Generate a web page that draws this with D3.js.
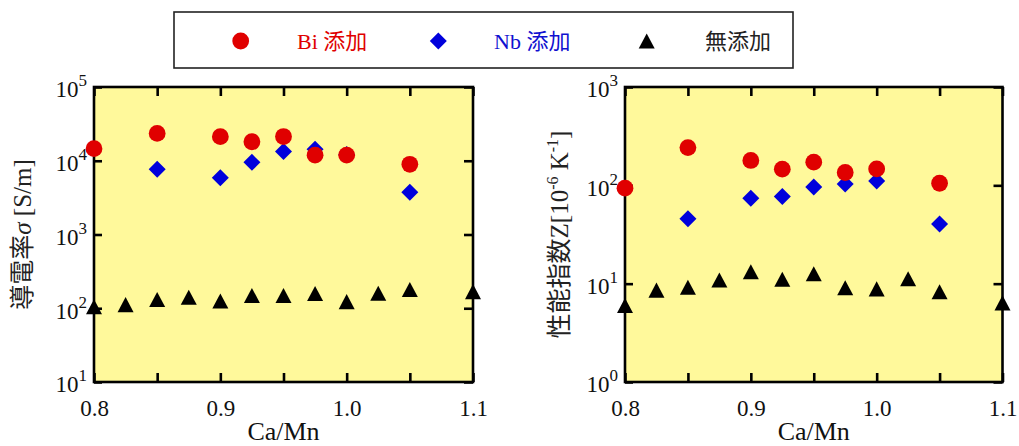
<!DOCTYPE html>
<html>
<head>
<meta charset="utf-8">
<script src="https://cdn.jsdelivr.net/npm/d3@7"></script>
<style>
  html, body { margin: 0; padding: 0; background: #ffffff; }
  svg { display: block; }
</style>
</head>
<body>
<div id="chart"></div>
<script>
// Ca/Mn ratios
const xBi = [0.8, 0.85, 0.9, 0.925, 0.95, 0.975, 1.0, 1.05];
const xNb = [0.85, 0.9, 0.925, 0.95, 0.975, 1.0, 1.05];
const xNone = [0.8, 0.825, 0.85, 0.875, 0.9, 0.925, 0.95, 0.975, 1.0, 1.025, 1.05, 1.1];

// conductivity sigma [S/m]
const sigmaBi = [14600, 23500, 21200, 18100, 21300, 11900, 11900, 8950];
const sigmaNb = [7650, 5900, 9530, 13300, 14300, 12200, 3730];
const sigmaNone = [105, 112, 131, 141, 125, 149, 149, 158, 123, 160, 179, 168];

// performance index Z [1e-6 /K]
const zBi = [93.6, 242, 179, 146, 172, 135, 147, 105];
const zNb = [45.7, 74, 77, 96, 103, 111, 40.4];
const zNone = [6.0, 8.6, 9.2, 10.9, 13.2, 11.1, 12.6, 9.1, 8.85, 11.2, 8.26, 6.38];

// ticks
const xTicks = [0.8, 0.85, 0.9, 0.95, 1.0, 1.05, 1.1];
const xTickLabels = [0.8, 0.9, 1.0, 1.1];
const sigmaTicks = [1e1, 1e2, 1e3, 1e4, 1e5];
const zTicks = [1e0, 1e1, 1e2, 1e3];

const legendLabels = ['Bi 添加', 'Nb 添加', '無添加'];

const width = 1019;
const height = 446;
const FONT = 'Liberation Serif, Noto Sans CJK JP, serif';
const RED = '#e00000';
const BLUE = '#0000dc';
const BG = '#fff99b';

// markers centred on their bounding box, like the original plot
const triangle = {
  draw(ctx, size) {
    const w = Math.sqrt(size);
    const h = w * 0.94;
    ctx.moveTo(0, -h / 2);
    ctx.lineTo(w / 2, h / 2);
    ctx.lineTo(-w / 2, h / 2);
    ctx.closePath();
  },
};
const diamond = {
  draw(ctx, size) {
    const r = Math.sqrt(size) / 2;
    ctx.moveTo(0, -r);
    ctx.lineTo(r, 0);
    ctx.lineTo(0, r);
    ctx.lineTo(-r, 0);
    ctx.closePath();
  },
};

const series = [
  { type: d3.symbolCircle, size: Math.PI * 8.4 * 8.4, color: RED },
  { type: diamond, size: 17 * 17, color: BLUE },
  { type: triangle, size: 16 * 16, color: '#000000' },
];

const svg = d3.select('#chart').append('svg')
  .attr('width', width)
  .attr('height', height)
  .style('font-family', FONT);

function drawPanel(opt) {
  const x = d3.scaleLinear().domain([0.8, 1.1]).range([opt.left, opt.right]);
  const y = d3.scaleLog().domain(opt.yDomain).range([opt.bottom, opt.top]);
  const g = svg.append('g');

  g.append('rect')
    .attr('x', opt.left)
    .attr('y', opt.top)
    .attr('width', opt.right - opt.left)
    .attr('height', opt.bottom - opt.top)
    .attr('fill', BG)
    .attr('stroke', '#000')
    .attr('stroke-width', 2.6);

  const fmtX = (d) => (xTickLabels.includes(d) ? d.toFixed(1) : '');

  const styleAxis = (sel) => {
    sel.attr('font-family', null).attr('font-size', null);
    sel.select('.domain').remove();
    sel.selectAll('.tick line').attr('stroke', '#000').attr('stroke-width', 2.6);
    sel.selectAll('.tick text')
      .attr('fill', '#111')
      .style('font-family', FONT)
      .style('font-size', '23px');
  };

  g.append('g')
    .attr('transform', `translate(0,${opt.bottom})`)
    .call(d3.axisBottom(x).tickValues(xTicks).tickSizeInner(-9).tickSizeOuter(0).tickPadding(18).tickFormat(fmtX))
    .call(styleAxis);

  g.append('g')
    .attr('transform', `translate(0,${opt.top})`)
    .call(d3.axisTop(x).tickValues(xTicks).tickSizeInner(-9).tickSizeOuter(0).tickFormat(''))
    .call(styleAxis);

  g.append('g')
    .attr('transform', `translate(${opt.right},0)`)
    .call(d3.axisRight(y).tickValues(opt.yTicks).tickSizeInner(-9).tickSizeOuter(0).tickFormat(''))
    .call(styleAxis);

  const yAxis = g.append('g')
    .attr('transform', `translate(${opt.left},0)`)
    .call(d3.axisLeft(y).tickValues(opt.yTicks).tickSizeInner(-8).tickSizeOuter(0).tickPadding(7).tickFormat(''))
    .call(styleAxis);

  // 10^n labels with a real superscript
  yAxis.selectAll('.tick text')
    .attr('dy', '0.43em')
    .each(function (d) {
      const t = d3.select(this);
      t.text('10');
      t.append('tspan').attr('dy', -11).style('font-size', '17px').text(Math.round(Math.log10(d)));
    });

  // x axis title
  g.append('text')
    .attr('x', (opt.left + opt.right) / 2)
    .attr('y', 440)
    .attr('text-anchor', 'middle')
    .style('font-family', FONT)
    .style('font-size', '26px')
    .attr('fill', '#111')
    .text('Ca/Mn');

  // y axis title
  const yt = g.append('text')
    .attr('transform', `translate(${opt.titleX},${(opt.top + opt.bottom) / 2}) rotate(-90)`)
    .attr('text-anchor', 'middle')
    .style('font-family', FONT)
    .style('font-size', '25px')
    .attr('fill', '#222');
  opt.title(yt);

  // markers: no-additive first, then Nb, then Bi on top
  const sets = [
    [xNone, opt.none, series[2]],
    [xNb, opt.nb, series[1]],
    [xBi, opt.bi, series[0]],
  ];
  sets.forEach(([xs, ys, s]) => {
    g.append('g')
      .selectAll('path')
      .data(xs.map((d, i) => [d, ys[i]]))
      .join('path')
      .attr('transform', (d) => `translate(${x(d[0])},${y(d[1])})`)
      .attr('d', d3.symbol().type(s.type).size(s.size))
      .attr('fill', s.color);
  });
}

drawPanel({
  left: 94, right: 473, top: 87, bottom: 382,
  yDomain: [1e1, 1e5], yTicks: sigmaTicks, titleX: 31,
  bi: sigmaBi, nb: sigmaNb, none: sigmaNone,
  title: (t) => {
    t.append('tspan').text('導電率');
    t.append('tspan').style('font-style', 'italic').text('σ');
    t.append('tspan').text(' [S/m]');
  },
});

drawPanel({
  left: 625, right: 1002.5, top: 87, bottom: 382,
  yDomain: [1e0, 1e3], yTicks: zTicks, titleX: 568,
  bi: zBi, nb: zNb, none: zNone,
  title: (t) => {
    t.append('tspan').text('性能指数Z[10');
    t.append('tspan').attr('dy', -10).style('font-size', '16px').text('-6');
    t.append('tspan').attr('dy', 10).text(' K');
    t.append('tspan').attr('dy', -10).style('font-size', '16px').text('-1');
    t.append('tspan').attr('dy', 10).text(']');
  },
});

// legend box
const legend = svg.append('g');
legend.append('rect')
  .attr('x', 174).attr('y', 12).attr('width', 619).attr('height', 56)
  .attr('fill', '#fff').attr('stroke', '#222').attr('stroke-width', 1.6);

const legendItems = [
  { mx: 240.7, tx: 297, color: RED, textColor: '#e00000' },
  { mx: 438.3, tx: 494, color: BLUE, textColor: '#1010d0' },
  { mx: 646.7, tx: 705, color: '#000', textColor: '#222' },
];
legendItems.forEach((item, i) => {
  legend.append('path')
    .attr('transform', `translate(${item.mx},41)`)
    .attr('d', d3.symbol().type(series[i].type).size(series[i].size))
    .attr('fill', series[i].color);
  legend.append('text')
    .attr('x', item.tx)
    .attr('y', 48.5)
    .style('font-family', FONT)
    .style('font-size', '22px')
    .attr('fill', item.textColor)
    .text(legendLabels[i]);
});
</script>
</body>
</html>
